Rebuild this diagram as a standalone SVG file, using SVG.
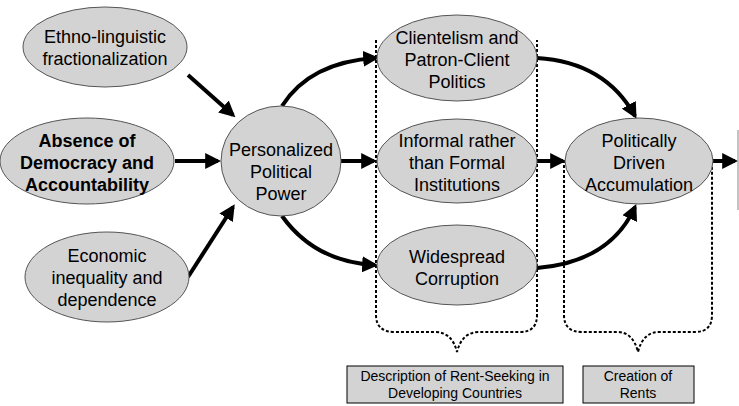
<svg xmlns="http://www.w3.org/2000/svg" width="739" height="406" viewBox="0 0 739 406">
<style>
.n{fill:#d3d3d3;stroke:#555;stroke-width:1}
.t{font-family:"Liberation Sans",Arial,sans-serif;font-size:18px;fill:#000;text-anchor:middle}
.b{font-weight:bold}
.s{font-family:"Liberation Sans",Arial,sans-serif;font-size:14px;fill:#000;text-anchor:middle}
.a{fill:none;stroke:#000;stroke-width:4;marker-end:url(#m)}
.d{fill:none;stroke:#000;stroke-width:2;stroke-dasharray:3,2}
.bx{fill:#d3d3d3;stroke:#000;stroke-width:1}
</style>
<defs><marker id="m" viewBox="0 0 10 10" refX="8" refY="5" markerWidth="4" markerHeight="4" orient="auto" markerUnits="strokeWidth"><path d="M0,0L10,5L0,10z" fill="#000"/></marker></defs>
<g id="connectors">
<path class="a" d="M188,75L233,115"/>
<path class="a" d="M175,161L218,161"/>
<path class="a" d="M188,277L233,207"/>
<path class="a" d="M282,106Q310,62 376,58"/>
<path class="a" d="M341,161L374,161"/>
<path class="a" d="M282,216Q315,262 375,265"/>
<path class="a" d="M537,58Q605,62 635,116"/>
<path class="a" d="M537,161L563,161"/>
<path class="a" d="M537,268Q610,262 635,207"/>
<path class="a" d="M713,161L735,161"/>
<path class="d" d="M376,40V315Q376,332 395,332H435Q452,332 457,352Q462,332 479,332H520Q537,332 537,315V40"/>
<path class="d" d="M564,160V315Q564,332 582,332H617Q633,332 638,352Q643,332 659,332H695Q712,332 712,315V160"/>
<line x1="738" y1="130" x2="738" y2="210" stroke="#888" stroke-width="1"/>
</g>
<g id="n1"><ellipse class="n" cx="105" cy="47" rx="82" ry="40"/><text class="t" x="105" y="43">Ethno-linguistic</text><text class="t" x="105" y="65">fractionalization</text></g>
<g id="n2"><ellipse class="n" cx="87" cy="161" rx="87" ry="43"/><text class="t b" x="87" y="147">Absence of</text><text class="t b" x="87" y="169">Democracy and</text><text class="t b" x="87" y="191">Accountability</text></g>
<g id="n3"><ellipse class="n" cx="107" cy="277" rx="82" ry="45"/><text class="t" x="107" y="262">Economic</text><text class="t" x="107" y="284">inequality and</text><text class="t" x="107" y="306">dependence</text></g>
<g id="n4"><ellipse class="n" cx="281" cy="161" rx="60" ry="55"/><text class="t" x="281" y="156">Personalized</text><text class="t" x="281" y="178">Political</text><text class="t" x="281" y="200">Power</text></g>
<g id="n5"><ellipse class="n" cx="457" cy="58" rx="80" ry="43"/><text class="t" x="457" y="44">Clientelism and</text><text class="t" x="457" y="66">Patron-Client</text><text class="t" x="457" y="88">Politics</text></g>
<g id="n6"><ellipse class="n" cx="457" cy="161" rx="80" ry="42"/><text class="t" x="457" y="147">Informal rather</text><text class="t" x="457" y="169">than Formal</text><text class="t" x="457" y="191">Institutions</text></g>
<g id="n7"><ellipse class="n" cx="457" cy="265" rx="80" ry="40"/><text class="t" x="457" y="263">Widespread</text><text class="t" x="457" y="285">Corruption</text></g>
<g id="n8"><ellipse class="n" cx="639" cy="161" rx="74" ry="43"/><text class="t" x="639" y="147">Politically</text><text class="t" x="639" y="169">Driven</text><text class="t" x="639" y="191">Accumulation</text></g>
<g id="b1"><rect class="bx" x="347" y="366" width="216" height="37"/><text class="s" x="455" y="381">Description of Rent-Seeking in</text><text class="s" x="455" y="398">Developing Countries</text></g>
<g id="b2"><rect class="bx" x="583" y="366" width="111" height="37"/><text class="s" x="638" y="381">Creation of</text><text class="s" x="638" y="398">Rents</text></g>
</svg>
